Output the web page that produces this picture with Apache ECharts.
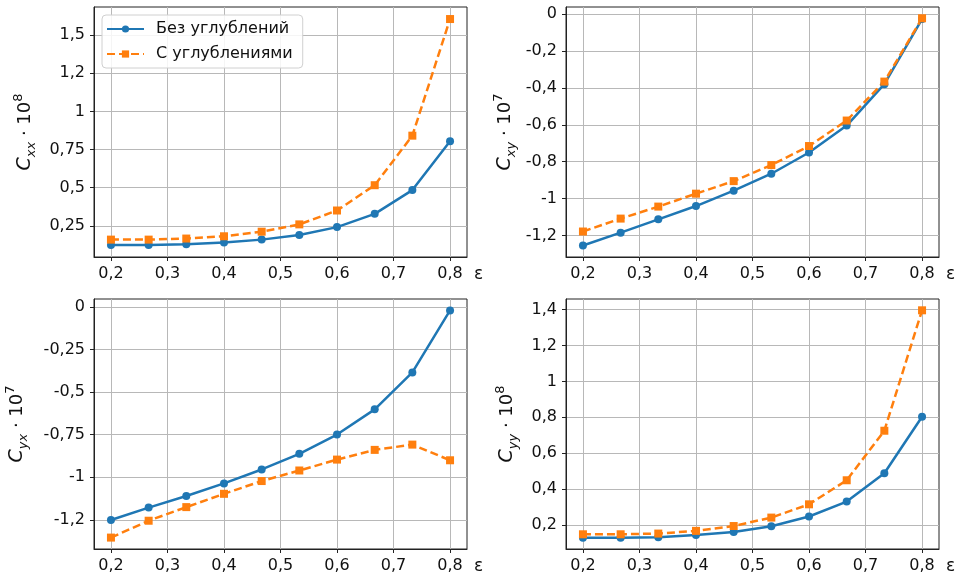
<!DOCTYPE html>
<html>
<head>
<meta charset="utf-8">
<script src="https://cdn.jsdelivr.net/npm/echarts@6/dist/echarts.min.js"></script>
<style>html,body{margin:0;background:#fff}#main{width:960px;height:576px}</style>
</head>
<body>
<div id="main"></div>
<script>
// эксцентриситет
const eps = [0.2, 0.2667, 0.3333, 0.4, 0.4667, 0.5333, 0.6, 0.6667, 0.7333, 0.8];
const xTicks = [0.2, 0.3, 0.4, 0.5, 0.6, 0.7, 0.8];
const xTickLabels = ['0,2', '0,3', '0,4', '0,5', '0,6', '0,7', '0,8'];

const names = ['Без углублений', 'С углублениями'];

// Cxx * 10^8
const cxxPlain = [0.124, 0.124, 0.129, 0.140, 0.159, 0.189, 0.241, 0.328, 0.484, 0.804];
const cxxDimple = [0.159, 0.159, 0.166, 0.181, 0.211, 0.259, 0.350, 0.516, 0.841, 1.606];
const cxxTicks = [0.25, 0.5, 0.75, 1, 1.25, 1.5];
const cxxTickLabels = ['0,25', '0,5', '0,75', '1', '1,2', '1,5'];

// Cxy * 10^7
const cxyPlain = [-1.254, -1.184, -1.112, -1.040, -0.957, -0.865, -0.750, -0.604, -0.380, -0.027];
const cxyDimple = [-1.178, -1.108, -1.043, -0.973, -0.905, -0.818, -0.715, -0.577, -0.366, -0.023];
const cxyTicks = [-1.2, -1, -0.8, -0.6, -0.4, -0.2, 0];
const cxyTickLabels = ['-1,2', '-1', '-0,8', '-0,6', '-0,4', '-0,2', '0'];

// Cyx * 10^7
const cyxPlain = [-1.251, -1.178, -1.110, -1.036, -0.954, -0.862, -0.749, -0.601, -0.384, -0.020];
const cyxDimple = [-1.354, -1.255, -1.175, -1.097, -1.022, -0.960, -0.896, -0.839, -0.808, -0.900];
const cyxTicks = [-1.25, -1, -0.75, -0.5, -0.25, 0];
const cyxTickLabels = ['-1,2', '-1', '-0,75', '-0,5', '-0,25', '0'];

// Cyy * 10^8
const cyyPlain = [0.129, 0.129, 0.131, 0.144, 0.161, 0.193, 0.247, 0.330, 0.488, 0.803];
const cyyDimple = [0.148, 0.148, 0.152, 0.167, 0.194, 0.241, 0.315, 0.449, 0.725, 1.396];
const cyyTicks = [0.2, 0.4, 0.6, 0.8, 1, 1.2, 1.4];
const cyyTickLabels = ['0,2', '0,4', '0,6', '0,8', '1', '1,2', '1,4'];

const font = 'DejaVu Sans';
const blue = '#1f77b4';
const orange = '#ff7f0e';

function tickLabel(ticks, labels, v) {
  for (let i = 0; i < ticks.length; i++) {
    if (Math.abs(ticks[i] - v) < 1e-6) return labels[i];
  }
  return '';
}

const panels = [
  { sub: 'xx', pow: '8', plain: cxxPlain, dimple: cxxDimple, ticks: cxxTicks, labels: cxxTickLabels,
    min: 0.045, max: 1.685, gap: 56, grid: { left: 94, top: 7, width: 373, height: 250 } },
  { sub: 'xy', pow: '7', plain: cxyPlain, dimple: cxyDimple, ticks: cxyTicks, labels: cxyTickLabels,
    min: -1.316, max: 0.038, gap: 48, grid: { left: 566, top: 7, width: 373, height: 250 } },
  { sub: 'yx', pow: '7', plain: cyxPlain, dimple: cyxDimple, ticks: cyxTicks, labels: cyxTickLabels,
    min: -1.421, max: 0.047, gap: 64, grid: { left: 94, top: 299, width: 373, height: 250 } },
  { sub: 'yy', pow: '8', plain: cyyPlain, dimple: cyyDimple, ticks: cyyTicks, labels: cyyTickLabels,
    min: 0.066, max: 1.459, gap: 46, grid: { left: 566, top: 299, width: 373, height: 250 } }
];

const axisCommon = {
  axisLine: { show: true, onZero: false, lineStyle: { color: '#222', width: 1 } },
  splitLine: { show: true, lineStyle: { color: '#b8b8b8', width: 1 } }
};

const grid = [], xAxis = [], yAxis = [], series = [];
panels.forEach((p, i) => {
  grid.push(Object.assign({ show: true, borderColor: '#222', borderWidth: 1, outerBoundsMode: 'none', containLabel: false }, p.grid));
  xAxis.push(Object.assign({
    type: 'value', gridIndex: i, min: 0.17, max: 0.83,
    axisTick: { show: true, length: 4, customValues: xTicks, lineStyle: { color: '#222' } },
    axisLabel: { customValues: xTicks, formatter: v => tickLabel(xTicks, xTickLabels, v),
      margin: 9, fontSize: 16, color: '#111', fontFamily: font },
    name: 'ε', nameLocation: 'end', nameGap: 7,
    nameTextStyle: { fontSize: 17, color: '#111', fontFamily: font, align: 'left', verticalAlign: 'top', padding: [9, 0, 0, 0] }
  }, axisCommon));
  yAxis.push(Object.assign({
    type: 'value', gridIndex: i, min: p.min, max: p.max,
    axisTick: { show: true, length: 4, customValues: p.ticks, lineStyle: { color: '#222' } },
    axisLabel: { customValues: p.ticks, formatter: v => tickLabel(p.ticks, p.labels, v),
      margin: 9, fontSize: 16, color: '#111', fontFamily: font },
    name: '{c|C}{s|' + p.sub + '}{t| · 10}{p|' + p.pow + '}',
    nameLocation: 'middle', nameRotate: 90, nameGap: p.gap,
    nameTextStyle: {
      fontFamily: font, color: '#111',
      rich: {
        c: { fontSize: 19, fontStyle: 'italic', fontFamily: font, lineHeight: 26, verticalAlign: 'middle', color: '#111' },
        s: { fontSize: 13, fontStyle: 'italic', fontFamily: font, lineHeight: 26, verticalAlign: 'bottom', color: '#111' },
        t: { fontSize: 18, fontFamily: font, lineHeight: 26, verticalAlign: 'middle', color: '#111' },
        p: { fontSize: 13, fontFamily: font, lineHeight: 26, verticalAlign: 'top', color: '#111' }
      }
    }
  }, axisCommon));
  series.push({
    name: names[0], type: 'line', xAxisIndex: i, yAxisIndex: i,
    data: eps.map((x, j) => [x, p.plain[j]]),
    symbol: 'circle', symbolSize: 8, showSymbol: true,
    lineStyle: { color: blue, width: 2.5 }, itemStyle: { color: blue }
  });
  series.push({
    name: names[1], type: 'line', xAxisIndex: i, yAxisIndex: i,
    data: eps.map((x, j) => [x, p.dimple[j]]),
    symbol: 'rect', symbolSize: 8, showSymbol: true,
    lineStyle: { color: orange, width: 2.5, type: [8, 4] }, itemStyle: { color: orange }
  });
});

const chart = echarts.init(document.getElementById('main'), null, { renderer: 'canvas' });
chart.setOption({
  animation: false,
  backgroundColor: '#fff',
  textStyle: { fontFamily: font },
  legend: {
    data: names, left: 102, top: 15, orient: 'vertical',
    itemWidth: 37, itemHeight: 9, itemGap: 9,
    padding: [6, 10, 6, 4],
    borderColor: '#d0d0d0', borderWidth: 1, borderRadius: 4,
    backgroundColor: 'rgba(255,255,255,0.85)',
    textStyle: { fontSize: 16, color: '#111', fontFamily: font, padding: [0, 0, 0, 7] }
  },
  grid: grid,
  xAxis: xAxis,
  yAxis: yAxis,
  series: series
});
</script>
</body>
</html>
